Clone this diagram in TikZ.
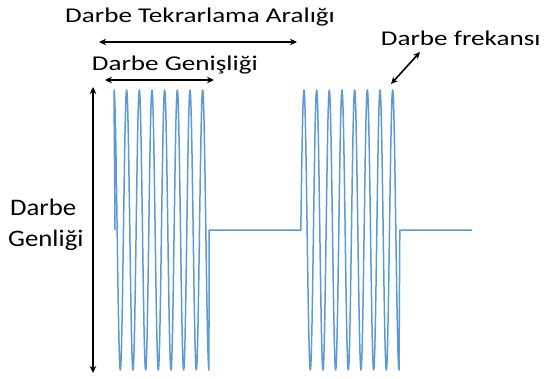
\documentclass[tikz,border=0pt]{standalone}
\usepackage{fontspec}
\setmainfont{Carlito}
\usetikzlibrary{arrows.meta}
\definecolor{wave}{RGB}{91,155,213}
\newcommand{\wide}[1]{\scalebox{1.29}[1]{#1}}
\newcommand{\wideb}[1]{\scalebox{1.13}[1]{#1}}
\tikzset{
  dim/.style={line width=1.6pt, black, {Stealth[length=7pt,width=6.5pt]}-{Stealth[length=7pt,width=6.5pt]}},
  lbl/.style={font=\fontsize{21}{24}\selectfont, inner sep=0pt, anchor=base west},
  lblb/.style={font=\fontsize{23.7}{28}\selectfont, inner sep=0pt, anchor=base west},
  sig/.style={wave, line width=1.5pt, line join=round}
}
\begin{document}
\begin{tikzpicture}[x=1pt,y=-1pt]
\useasboundingbox (0,0) rectangle (545,379);
% labels
\node[lbl] (tek) at (65,23) {\wide{Darbe Tekrarlama Aralığı}};
\node[lbl] (gen) at (91.7,70.5) {\wide{Darbe Genişliği}};
\node[lbl] (frek) at (380.7,45.5) {\wide{Darbe frekansı}};
\node[lblb] (amp1) at (10,215) {\wideb{Darbe}};
\node[lblb] (amp2) at (8,246.7) {\wideb{Genliği}};
% dimension arrows
\coordinate (t1) at (99,42); \coordinate (t2) at (297,42);
\coordinate (g1) at (105,80); \coordinate (g2) at (214,80);
\coordinate (f1) at (420,52); \coordinate (f2) at (391,84);
\coordinate (a1) at (93,87); \coordinate (a2) at (93,373);
\draw[dim] (t1) -- (t2);
\draw[dim] (g1) -- (g2);
\draw[dim] (f1) -- (f2);
\draw[dim] (a1) -- (a2);
% signal
\coordinate (s0) at (115,230);
\coordinate (e0) at (209,230);
\coordinate (s1) at (300.8,230);
\coordinate (e1) at (399.8,230);
\coordinate (end) at (472,230);
\draw[sig] (s0) -- plot[domain=114:209, samples=500] (\x, {230-140*sin((\x-110.8)*28.413)})
  -- (e0) -- (s1)
  -- plot[domain=300.8:399.0, samples=500] (\x, {230-140*sin((\x-300.8)*28.413)})
  -- (e1) -- (end);
\end{tikzpicture}
\end{document}
